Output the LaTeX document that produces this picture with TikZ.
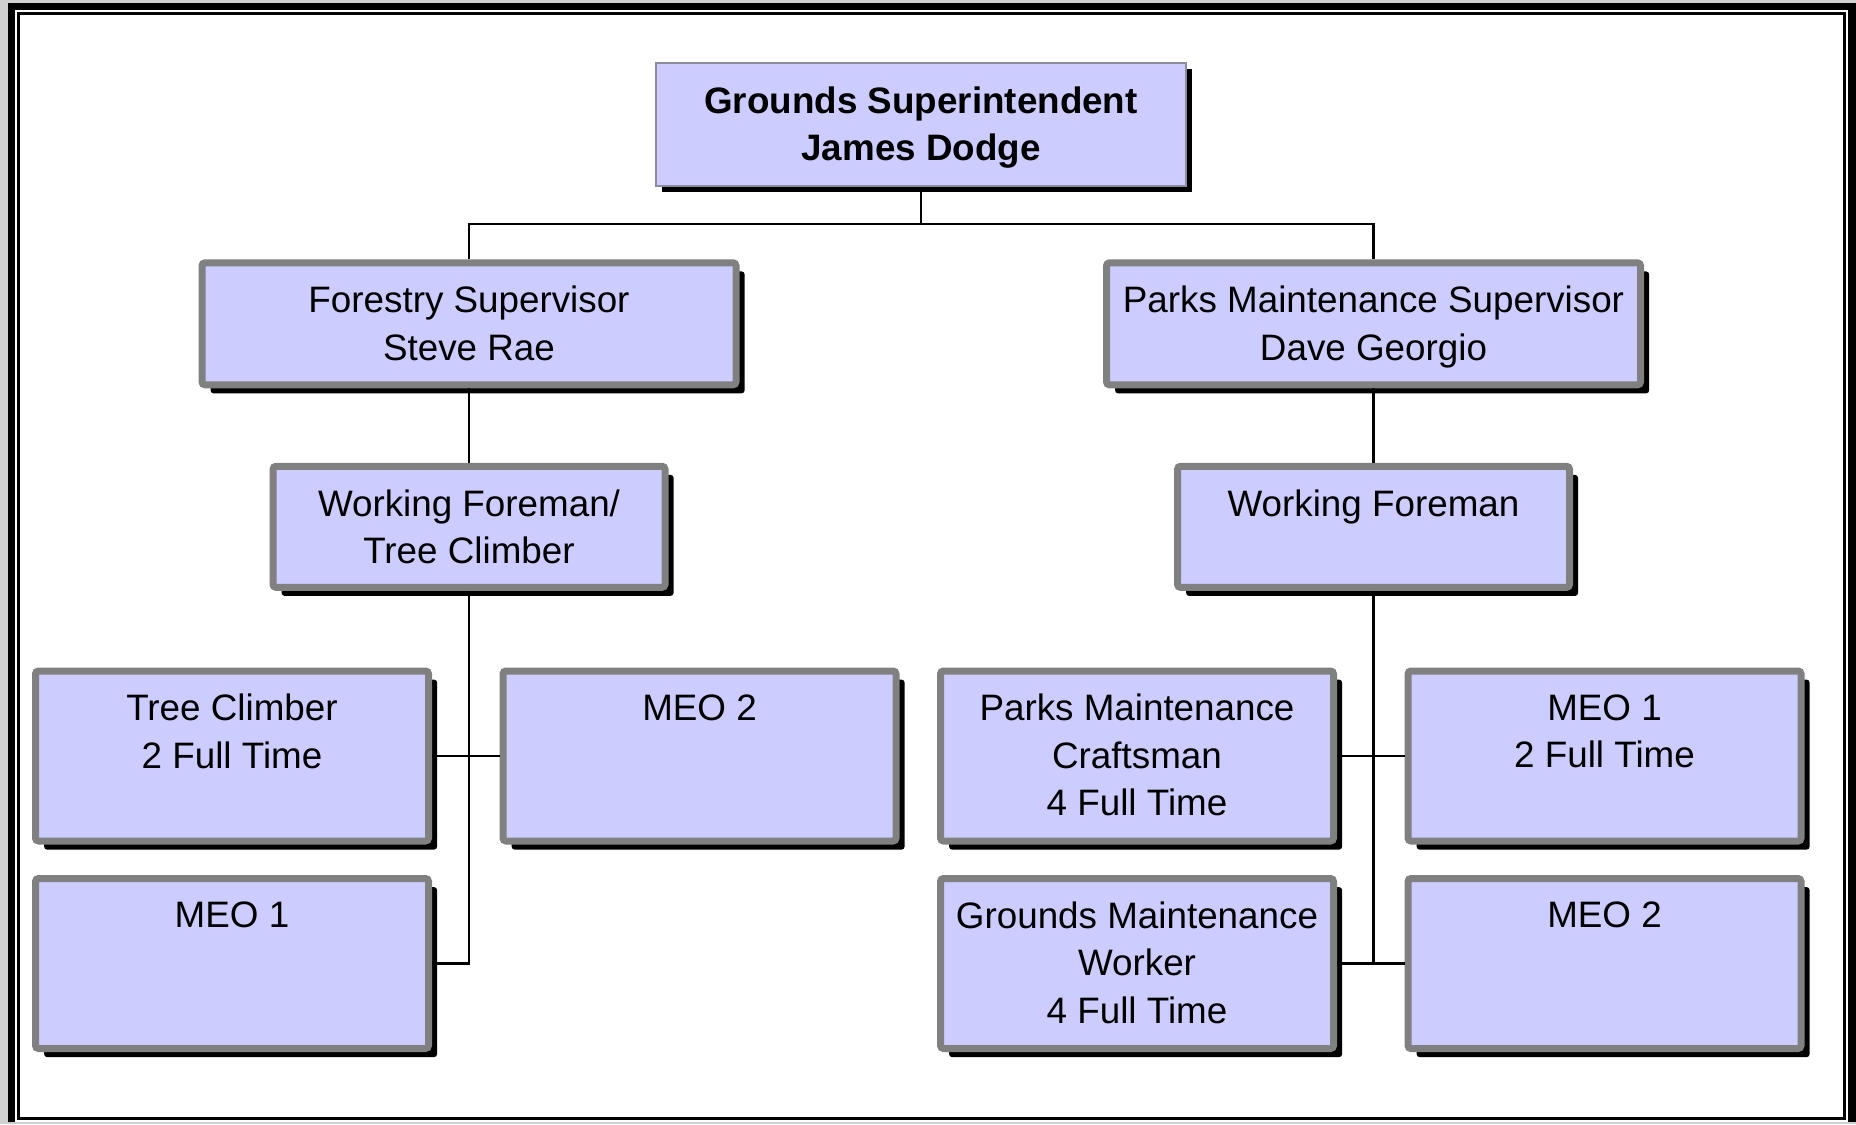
\documentclass[tikz,border=0pt]{standalone}
\usepackage{fontspec}
\setmainfont{Liberation Sans}
\usetikzlibrary{shadows}
\definecolor{boxfill}{HTML}{CCCCFF}
\definecolor{boxline}{HTML}{808080}
\definecolor{topline}{HTML}{8C8CA0}
\definecolor{bggray}{HTML}{D0D0D0}
\tikzset{
  unit/.style={rectangle, draw=boxline, line width=3.5pt, fill=boxfill, rounded corners=1.5pt, inner sep=0pt,
    drop shadow={shadow xshift=4.3pt, shadow yshift=-4.3pt, fill=black, opacity=1}},
  widebox/.style={unit, minimum width=267pt, minimum height=61pt},
  midbox/.style={unit, minimum width=196pt, minimum height=60.5pt},
  lowbox/.style={unit, minimum width=196.5pt, minimum height=85pt},
  topbox/.style={rectangle, draw=topline, line width=1pt, fill=boxfill, inner sep=0pt,
    minimum width=265.4pt, minimum height=61.7pt,
    drop shadow={shadow xshift=3pt, shadow yshift=-3pt, fill=black, opacity=1}},
  lbl/.style={font=\fontsize{18.4}{23.65}\selectfont, align=center, inner sep=0pt, anchor=north, yshift=-13.2pt},
  link/.style={line width=1.2pt, draw=black}
}
\begin{document}
\begin{tikzpicture}[x=0.5pt,y=-0.5pt]
\useasboundingbox (0,0) rectangle (1856,1124);
% frame
\fill[bggray] (0,0) rectangle (1856,1124);
\fill[black] (8,3) rectangle (1856,1122);
\fill[white] (15,10) rectangle (1848,1122);
\fill[black] (17,12) rectangle (1846,1120);
\fill[white] (20,15) rectangle (1843,1117);

% boxes
\node[topbox] (gs) at (921,124.3) {};
\node[widebox] (fs) at (469,323.8) {};
\node[widebox] (ps) at (1373.5,323.8) {};
\node[midbox] (wftc) at (469,526.8) {};
\node[midbox] (wf) at (1373.5,526.8) {};
\node[lowbox] (a3) at (232,756) {};
\node[lowbox] (b3) at (699.5,756) {};
\node[lowbox] (c3) at (1137,756) {};
\node[lowbox] (d3) at (1604.5,756) {};
\node[lowbox] (a4) at (232,963.5) {};
\node[lowbox] (c4) at (1137,963.5) {};
\node[lowbox] (d4) at (1604.5,963.5) {};

% connectors
\coordinate (j0) at (921,223.7);
\draw[link] (gs.south) -- (j0);
\draw[link] (fs.north) -- (fs.north |- j0) -- (ps.north |- j0) -- (ps.north);
\draw[link] (fs.south) -- (wftc.north);
\draw[link] (ps.south) -- (wf.north);
\draw[link] (wftc.south) -- (wftc.south |- a4.east) -- (a4.east);
\draw[link] (a3.east) -- (b3.west);
\draw[link] (wf.south) -- (wf.south |- c4.east);
\draw[link] (c3.east) -- (d3.west);
\draw[link] (c4.east) -- (d4.west);

% labels
\node[lbl, yshift=0.8pt] (gs-t) at (gs.north) {\bfseries Grounds Superintendent\\\bfseries James Dodge};
\node[lbl] (fs-t) at (fs.north) {Forestry Supervisor\\Steve Rae};
\node[lbl] (ps-t) at (ps.north) {Parks Maintenance Supervisor\\Dave Georgio};
\node[lbl] (wftc-t) at (wftc.north) {Working Foreman/\\Tree Climber};
\node[lbl] (wf-t) at (wf.north) {Working Foreman};
\node[lbl] (a3-t) at (a3.north) {Tree Climber\\2 Full Time};
\node[lbl] (b3-t) at (b3.north) {MEO 2};
\node[lbl] (c3-t) at (c3.north) {Parks Maintenance\\Craftsman\\4 Full Time};
\node[lbl] (d3-t) at (d3.north) {MEO 1\\2 Full Time};
\node[lbl] (a4-t) at (a4.north) {MEO 1};
\node[lbl] (c4-t) at (c4.north) {Grounds Maintenance\\Worker\\4 Full Time};
\node[lbl] (d4-t) at (d4.north) {MEO 2};
\end{tikzpicture}
\end{document}
